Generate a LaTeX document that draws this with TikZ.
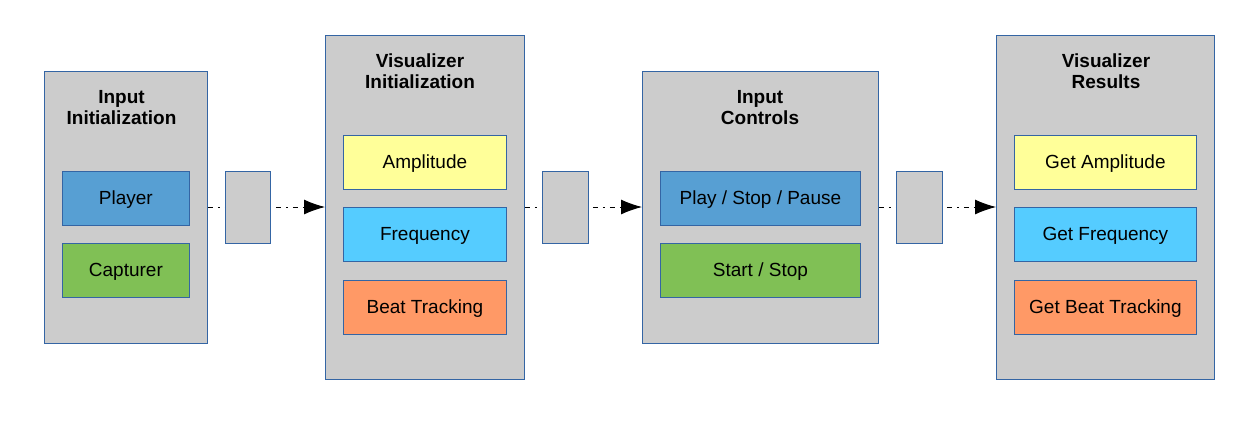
\documentclass[tikz,border=0pt]{standalone}
\usepackage{fontspec}
\setmainfont{Liberation Sans}
\usetikzlibrary{arrows.meta}
\definecolor{boxgrey}{HTML}{CCCCCC}
\definecolor{edgeblue}{HTML}{3465A4}
\definecolor{cblue}{HTML}{579FD3}
\definecolor{cgreen}{HTML}{80C055}
\definecolor{cyellow}{HTML}{FFFF99}
\definecolor{ccyan}{HTML}{55CCFF}
\definecolor{corange}{HTML}{FF9966}
\tikzset{
  x=1pt,y=-1pt,
  group/.style={draw=edgeblue,fill=boxgrey,line width=0.9pt,anchor=north west,inner sep=0pt},
  item/.style={draw=edgeblue,line width=0.8pt,anchor=north west,inner sep=0pt,minimum height=54pt,text height=16pt,text depth=4pt,font=\fontsize{19}{22}\selectfont},
  ttl/.style={font=\bfseries\fontsize{19}{21}\selectfont,align=center},
  conn/.style={line width=0.9pt,dash pattern=on 5pt off 5pt on 2pt off 5pt,-{Latex[length=21pt,width=15pt]}},
}
\begin{document}
\begin{tikzpicture}
\useasboundingbox[fill=white] (0,0) rectangle (1252,421);
% groups
\node[group,minimum width=163pt,minimum height=272pt] (g1) at (44,71) {};
\node[group,minimum width=199pt,minimum height=344pt] (g2) at (325,35) {};
\node[group,minimum width=236pt,minimum height=272pt] (g3) at (642,71) {};
\node[group,minimum width=218pt,minimum height=344pt] (g4) at (996,35) {};
% titles
\node[ttl] (t1) at (121.5,107.5) {Input\\Initialization};
\node[ttl] (t2) at (420,71.5) {Visualizer\\Initialization};
\node[ttl] (t3) at (760,107.5) {Input\\Controls};
\node[ttl] (t4) at (1106,71.5) {Visualizer\\Results};
% connectors
\draw[conn] (g1.east |- 0,207) -- (g2.west |- 0,207);
\draw[conn] (g2.east |- 0,207) -- (g3.west |- 0,207);
\draw[conn] (g3.east |- 0,207) -- (g4.west |- 0,207);
% small boxes
\node[group,minimum width=45pt,minimum height=72pt] (s1) at (225,171) {};
\node[group,minimum width=46pt,minimum height=72pt] (s2) at (542,171) {};
\node[group,minimum width=46pt,minimum height=72pt] (s3) at (896,171) {};
% items
\node[item,fill=cblue,minimum width=127pt] (player) at (62,171) {Player};
\node[item,fill=cgreen,minimum width=127pt] (capt) at (62,243) {Capturer};
\node[item,fill=cyellow,minimum width=163pt] (amp) at (343,135) {Amplitude};
\node[item,fill=ccyan,minimum width=163pt] (freq) at (343,207) {Frequency};
\node[item,fill=corange,minimum width=163pt] (beat) at (343,280) {Beat Tracking};
\node[item,fill=cblue,minimum width=200pt] (play) at (660,171) {Play / Stop / Pause};
\node[item,fill=cgreen,minimum width=200pt] (start) at (660,243) {Start / Stop};
\node[item,fill=cyellow,minimum width=182pt] (gamp) at (1014,135) {Get Amplitude};
\node[item,fill=ccyan,minimum width=182pt] (gfreq) at (1014,207) {Get Frequency};
\node[item,fill=corange,minimum width=182pt] (gbeat) at (1014,280) {Get Beat Tracking};
\end{tikzpicture}
\end{document}
